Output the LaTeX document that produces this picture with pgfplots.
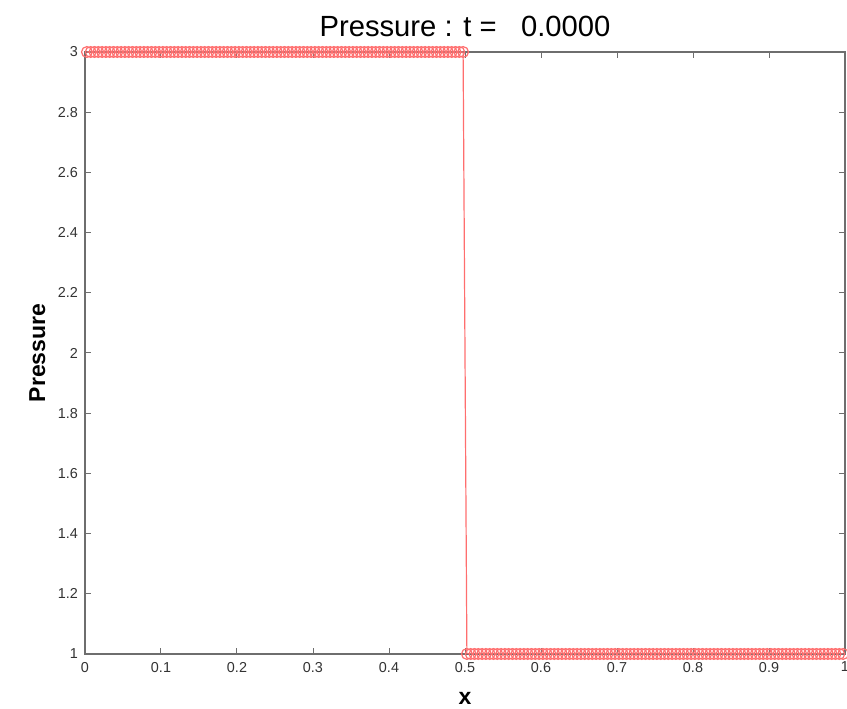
\documentclass[border=0pt]{standalone}
\usepackage{pgfplots}
\pgfplotsset{compat=1.18}
\usepackage{fontspec}
\setmainfont{Liberation Sans}
\definecolor{axgray}{RGB}{110,110,110}
\definecolor{mred}{RGB}{255,110,110}
\begin{document}
\begin{tikzpicture}
\begin{axis}[
  name=ax,
  scale only axis, width=380pt, height=301pt,
  xmin=0, xmax=1, ymin=1, ymax=3,
  xtick={0,0.1,...,1.01}, ytick={1,1.2,...,3.01},
  /pgf/number format/assume math mode=true,
  ticklabel style={font=\fontsize{7.2}{8}\selectfont, text=black!80},
  xticklabel style={yshift=-0.5pt},
  tick align=inside, tick pos=both,
  axis line style={axgray, line width=0.6pt},
  tick style={axgray, line width=0.5pt},
  major tick length=3pt,
  every axis title shift=0pt,
  title={Pressure : t =\ \ \ 0.0000},
  title style={font=\fontsize{14.6}{16}\selectfont, at={(axis description cs:0.5,1.0249)}, anchor=base, yshift=0pt, inner sep=0pt},
  xlabel={\textbf{x}}, ylabel={\textbf{Pressure}},
  label style={font=\fontsize{11.5}{12}\selectfont},
  xlabel style={at={(axis description cs:0.5,-0.0847)}, anchor=base, inner sep=0pt},
  ylabel style={at={(axis description cs:-0.0526,0.5)}, anchor=base, inner sep=0pt},
]
\addplot[mred, line width=0.6pt, mark=o, mark size=2.7pt, mark options={line width=0.6pt, mred}] coordinates {
(0.0025,3) (0.0075,3) (0.0125,3) (0.0175,3) (0.0225,3) (0.0275,3) (0.0325,3) (0.0375,3) (0.0425,3) (0.0475,3)
(0.0525,3) (0.0575,3) (0.0625,3) (0.0675,3) (0.0725,3) (0.0775,3) (0.0825,3) (0.0875,3) (0.0925,3) (0.0975,3)
(0.1025,3) (0.1075,3) (0.1125,3) (0.1175,3) (0.1225,3) (0.1275,3) (0.1325,3) (0.1375,3) (0.1425,3) (0.1475,3)
(0.1525,3) (0.1575,3) (0.1625,3) (0.1675,3) (0.1725,3) (0.1775,3) (0.1825,3) (0.1875,3) (0.1925,3) (0.1975,3)
(0.2025,3) (0.2075,3) (0.2125,3) (0.2175,3) (0.2225,3) (0.2275,3) (0.2325,3) (0.2375,3) (0.2425,3) (0.2475,3)
(0.2525,3) (0.2575,3) (0.2625,3) (0.2675,3) (0.2725,3) (0.2775,3) (0.2825,3) (0.2875,3) (0.2925,3) (0.2975,3)
(0.3025,3) (0.3075,3) (0.3125,3) (0.3175,3) (0.3225,3) (0.3275,3) (0.3325,3) (0.3375,3) (0.3425,3) (0.3475,3)
(0.3525,3) (0.3575,3) (0.3625,3) (0.3675,3) (0.3725,3) (0.3775,3) (0.3825,3) (0.3875,3) (0.3925,3) (0.3975,3)
(0.4025,3) (0.4075,3) (0.4125,3) (0.4175,3) (0.4225,3) (0.4275,3) (0.4325,3) (0.4375,3) (0.4425,3) (0.4475,3)
(0.4525,3) (0.4575,3) (0.4625,3) (0.4675,3) (0.4725,3) (0.4775,3) (0.4825,3) (0.4875,3) (0.4925,3) (0.4975,3)
(0.5025,1) (0.5075,1) (0.5125,1) (0.5175,1) (0.5225,1) (0.5275,1) (0.5325,1) (0.5375,1) (0.5425,1) (0.5475,1)
(0.5525,1) (0.5575,1) (0.5625,1) (0.5675,1) (0.5725,1) (0.5775,1) (0.5825,1) (0.5875,1) (0.5925,1) (0.5975,1)
(0.6025,1) (0.6075,1) (0.6125,1) (0.6175,1) (0.6225,1) (0.6275,1) (0.6325,1) (0.6375,1) (0.6425,1) (0.6475,1)
(0.6525,1) (0.6575,1) (0.6625,1) (0.6675,1) (0.6725,1) (0.6775,1) (0.6825,1) (0.6875,1) (0.6925,1) (0.6975,1)
(0.7025,1) (0.7075,1) (0.7125,1) (0.7175,1) (0.7225,1) (0.7275,1) (0.7325,1) (0.7375,1) (0.7425,1) (0.7475,1)
(0.7525,1) (0.7575,1) (0.7625,1) (0.7675,1) (0.7725,1) (0.7775,1) (0.7825,1) (0.7875,1) (0.7925,1) (0.7975,1)
(0.8025,1) (0.8075,1) (0.8125,1) (0.8175,1) (0.8225,1) (0.8275,1) (0.8325,1) (0.8375,1) (0.8425,1) (0.8475,1)
(0.8525,1) (0.8575,1) (0.8625,1) (0.8675,1) (0.8725,1) (0.8775,1) (0.8825,1) (0.8875,1) (0.8925,1) (0.8975,1)
(0.9025,1) (0.9075,1) (0.9125,1) (0.9175,1) (0.9225,1) (0.9275,1) (0.9325,1) (0.9375,1) (0.9425,1) (0.9475,1)
(0.9525,1) (0.9575,1) (0.9625,1) (0.9675,1) (0.9725,1) (0.9775,1) (0.9825,1) (0.9875,1) (0.9925,1) (0.9975,1)
};
\end{axis}
\pgfresetboundingbox
\path ([shift={(-42.5pt,-27.5pt)}]ax.south west) rectangle ([shift={(1pt,26pt)}]ax.north east);
\end{tikzpicture}
\end{document}
